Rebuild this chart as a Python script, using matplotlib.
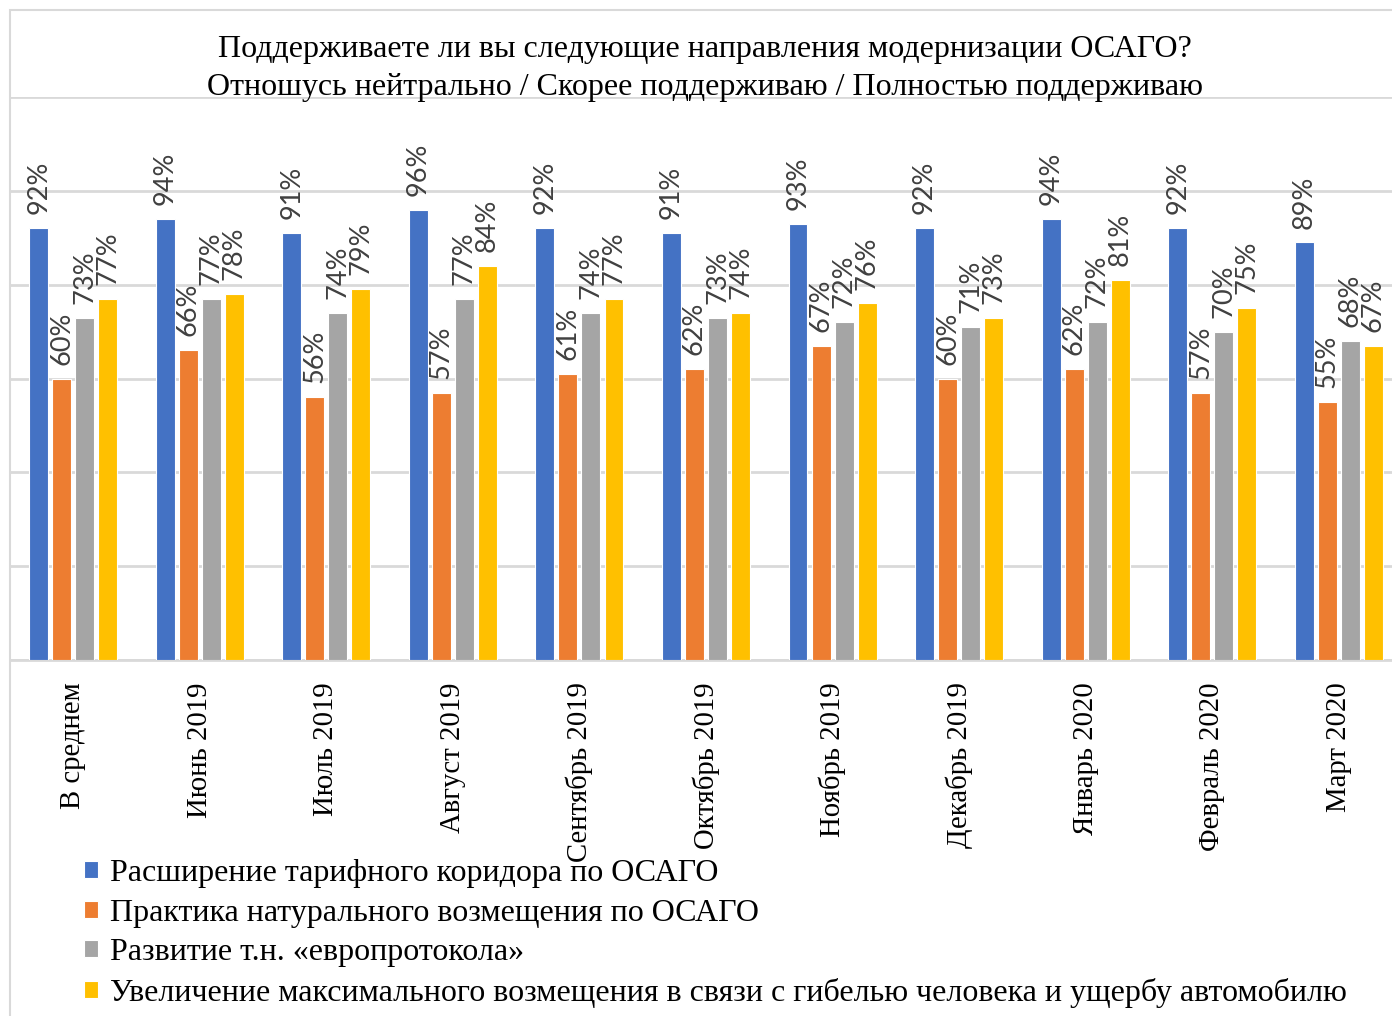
import matplotlib.pyplot as plt
from matplotlib.patches import Rectangle
import numpy as np

# categories and series values (percent)
categories = ['В среднем', 'Июнь 2019', 'Июль 2019', 'Август 2019',
              'Сентябрь 2019', 'Октябрь 2019', 'Ноябрь 2019',
              'Декабрь 2019', 'Январь 2020', 'Февраль 2020', 'Март 2020']
tariff = [92, 94, 91, 96, 92, 91, 93, 92, 94, 92, 89]
natural = [60, 66, 56, 57, 61, 62, 67, 60, 62, 57, 55]
europrotocol = [73, 77, 74, 77, 74, 73, 72, 71, 72, 70, 68]
max_payment = [77, 78, 79, 84, 77, 74, 76, 73, 81, 75, 67]

series_names = ['Расширение тарифного коридора по ОСАГО',
                'Практика натурального возмещения по ОСАГО',
                'Развитие т.н. «европротокола»',
                'Увеличение максимального возмещения в связи с гибелью человека и ущербу автомобилю']
series = [tariff, natural, europrotocol, max_payment]
colors = ['#4472C4', '#ED7D31', '#A5A5A5', '#FFC000']

W, H = 1392, 1016
fig = plt.figure(figsize=(W / 100, H / 100), dpi=100)

# outer chart frame (cropped on right and bottom)
fig.patches.append(Rectangle((10 / W, -0.05), 1.1, (H - 10) / H + 0.05,
                             transform=fig.transFigure, fill=False,
                             edgecolor='#D9D9D9', lw=1.5))

ax = fig.add_axes([10 / W, (H - 660) / H, 1392 / W, 563 / H])
x = np.arange(len(categories))
stride = 0.182
width = 0.15
for k, (vals, col) in enumerate(zip(series, colors)):
    pos = x + (k - 1.5) * stride
    ax.bar(pos, vals, width=width, color=col, edgecolor='white',
           linewidth=0.8, zorder=3, label=series_names[k])
    for px, v in zip(pos, vals):
        ax.annotate('{}%'.format(v), (px, v), xytext=(0, 10),
                    textcoords='offset points', rotation=90,
                    ha='center', va='bottom', fontsize=19.5,
                    family='Lato', color='#404040')

ax.set_xlim(-0.5, 10.5)
ax.set_ylim(0, 120)
ax.set_yticks(np.arange(0, 121, 20))
ax.set_yticklabels([])
ax.tick_params(axis='y', length=0)
ax.grid(axis='y', color='#D9D9D9', lw=2, zorder=0)
for s in ['top', 'right', 'left']:
    ax.spines[s].set_visible(False)
ax.spines['bottom'].set_color('#D9D9D9')
ax.spines['bottom'].set_linewidth(2)
ax.set_xticks(x)
ax.set_xticklabels(categories, rotation=90, family='Liberation Serif',
                   fontsize=20.7)
ax.tick_params(axis='x', length=0, pad=16)

# title
fig.text(705 / W, 1 - 50 / H,
         'Поддерживаете ли вы следующие направления модернизации ОСАГО?',
         ha='center', va='center', family='Liberation Serif', fontsize=23)
fig.text(705 / W, 1 - 88 / H,
         'Отношусь нейтрально / Скорее поддерживаю / Полностью поддерживаю',
         ha='center', va='center', family='Liberation Serif', fontsize=23)

leg = fig.legend(loc='upper left', bbox_to_anchor=(84 / W, 1 - 859 / H),
                 frameon=False, prop={'family': 'Liberation Serif', 'size': 23},
                 handlelength=0.45, handleheight=0.45, handletextpad=0.35,
                 labelspacing=0.33, borderaxespad=0, borderpad=0)

fig.savefig('out.png', dpi=100)
